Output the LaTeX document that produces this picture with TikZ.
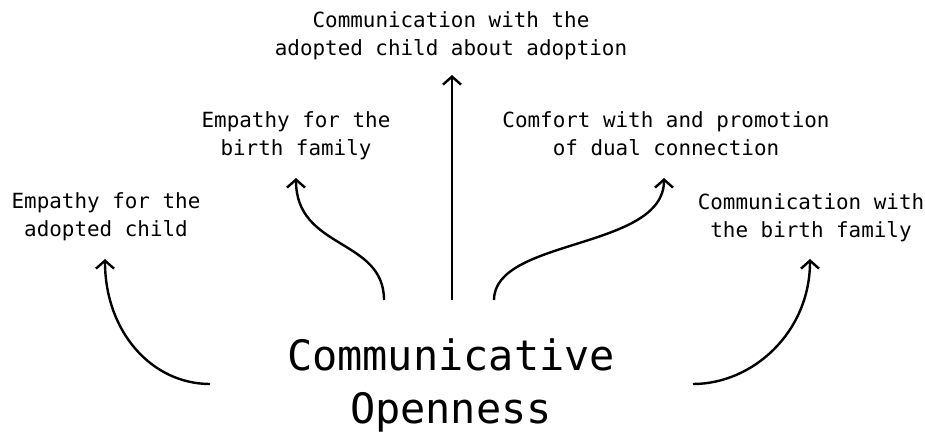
\documentclass[tikz,border=0pt]{standalone}
\usepackage{fontspec}
\newfontfamily\plexmono{DejaVu Sans Mono}
\usetikzlibrary{arrows.meta}
\begin{document}
\begin{tikzpicture}[x=1pt,y=-1pt,
  lbl/.style={align=center,inner sep=0pt,anchor=base,
    font=\plexmono\fontsize{20.9}{28}\selectfont},
  core/.style={align=center,inner sep=0pt,anchor=base,
    font=\plexmono\fontsize{41.9}{53}\selectfont},
  conn/.style={line width=2.4pt,-{Straight Barb[length=8pt,width=18pt,line width=2.4pt]}}]
\useasboundingbox (0,0) rectangle (925,434);
\node[core] (co) at (451,423) {Communicative\\Openness};
\node[lbl] (top) at (451,55) {Communication with the\\adopted child about adoption};
\node[lbl] (ebf) at (296,155) {Empathy for the\\birth family};
\node[lbl] (cdc) at (666,155) {Comfort with and promotion\\of dual connection};
\node[lbl] (eac) at (106,236) {Empathy for the\\adopted child};
\node[lbl] (cbf) at (811,237) {Communication with\\the birth family};
\coordinate (s1) at (210,384);
\coordinate (s2) at (384,300);
\coordinate (s3) at (452,300);
\coordinate (s4) at (494,300);
\coordinate (s5) at (693,384);
\coordinate (t1) at (105,259);
\coordinate (t2) at (296,178);
\coordinate (t3) at (452,75);
\coordinate (t4) at (664,178);
\coordinate (t5) at (810,259);
\draw[conn] (s1) .. controls (152,384) and (105,332) .. (t1);
\draw[conn] (s2) .. controls (384,238) and (296,250) .. (t2);
\draw[conn] (s3) -- (t3);
\draw[conn] (s4) .. controls (494,238) and (664,250) .. (t4);
\draw[conn] (s5) .. controls (753,384) and (810,332) .. (t5);
\end{tikzpicture}
\end{document}
